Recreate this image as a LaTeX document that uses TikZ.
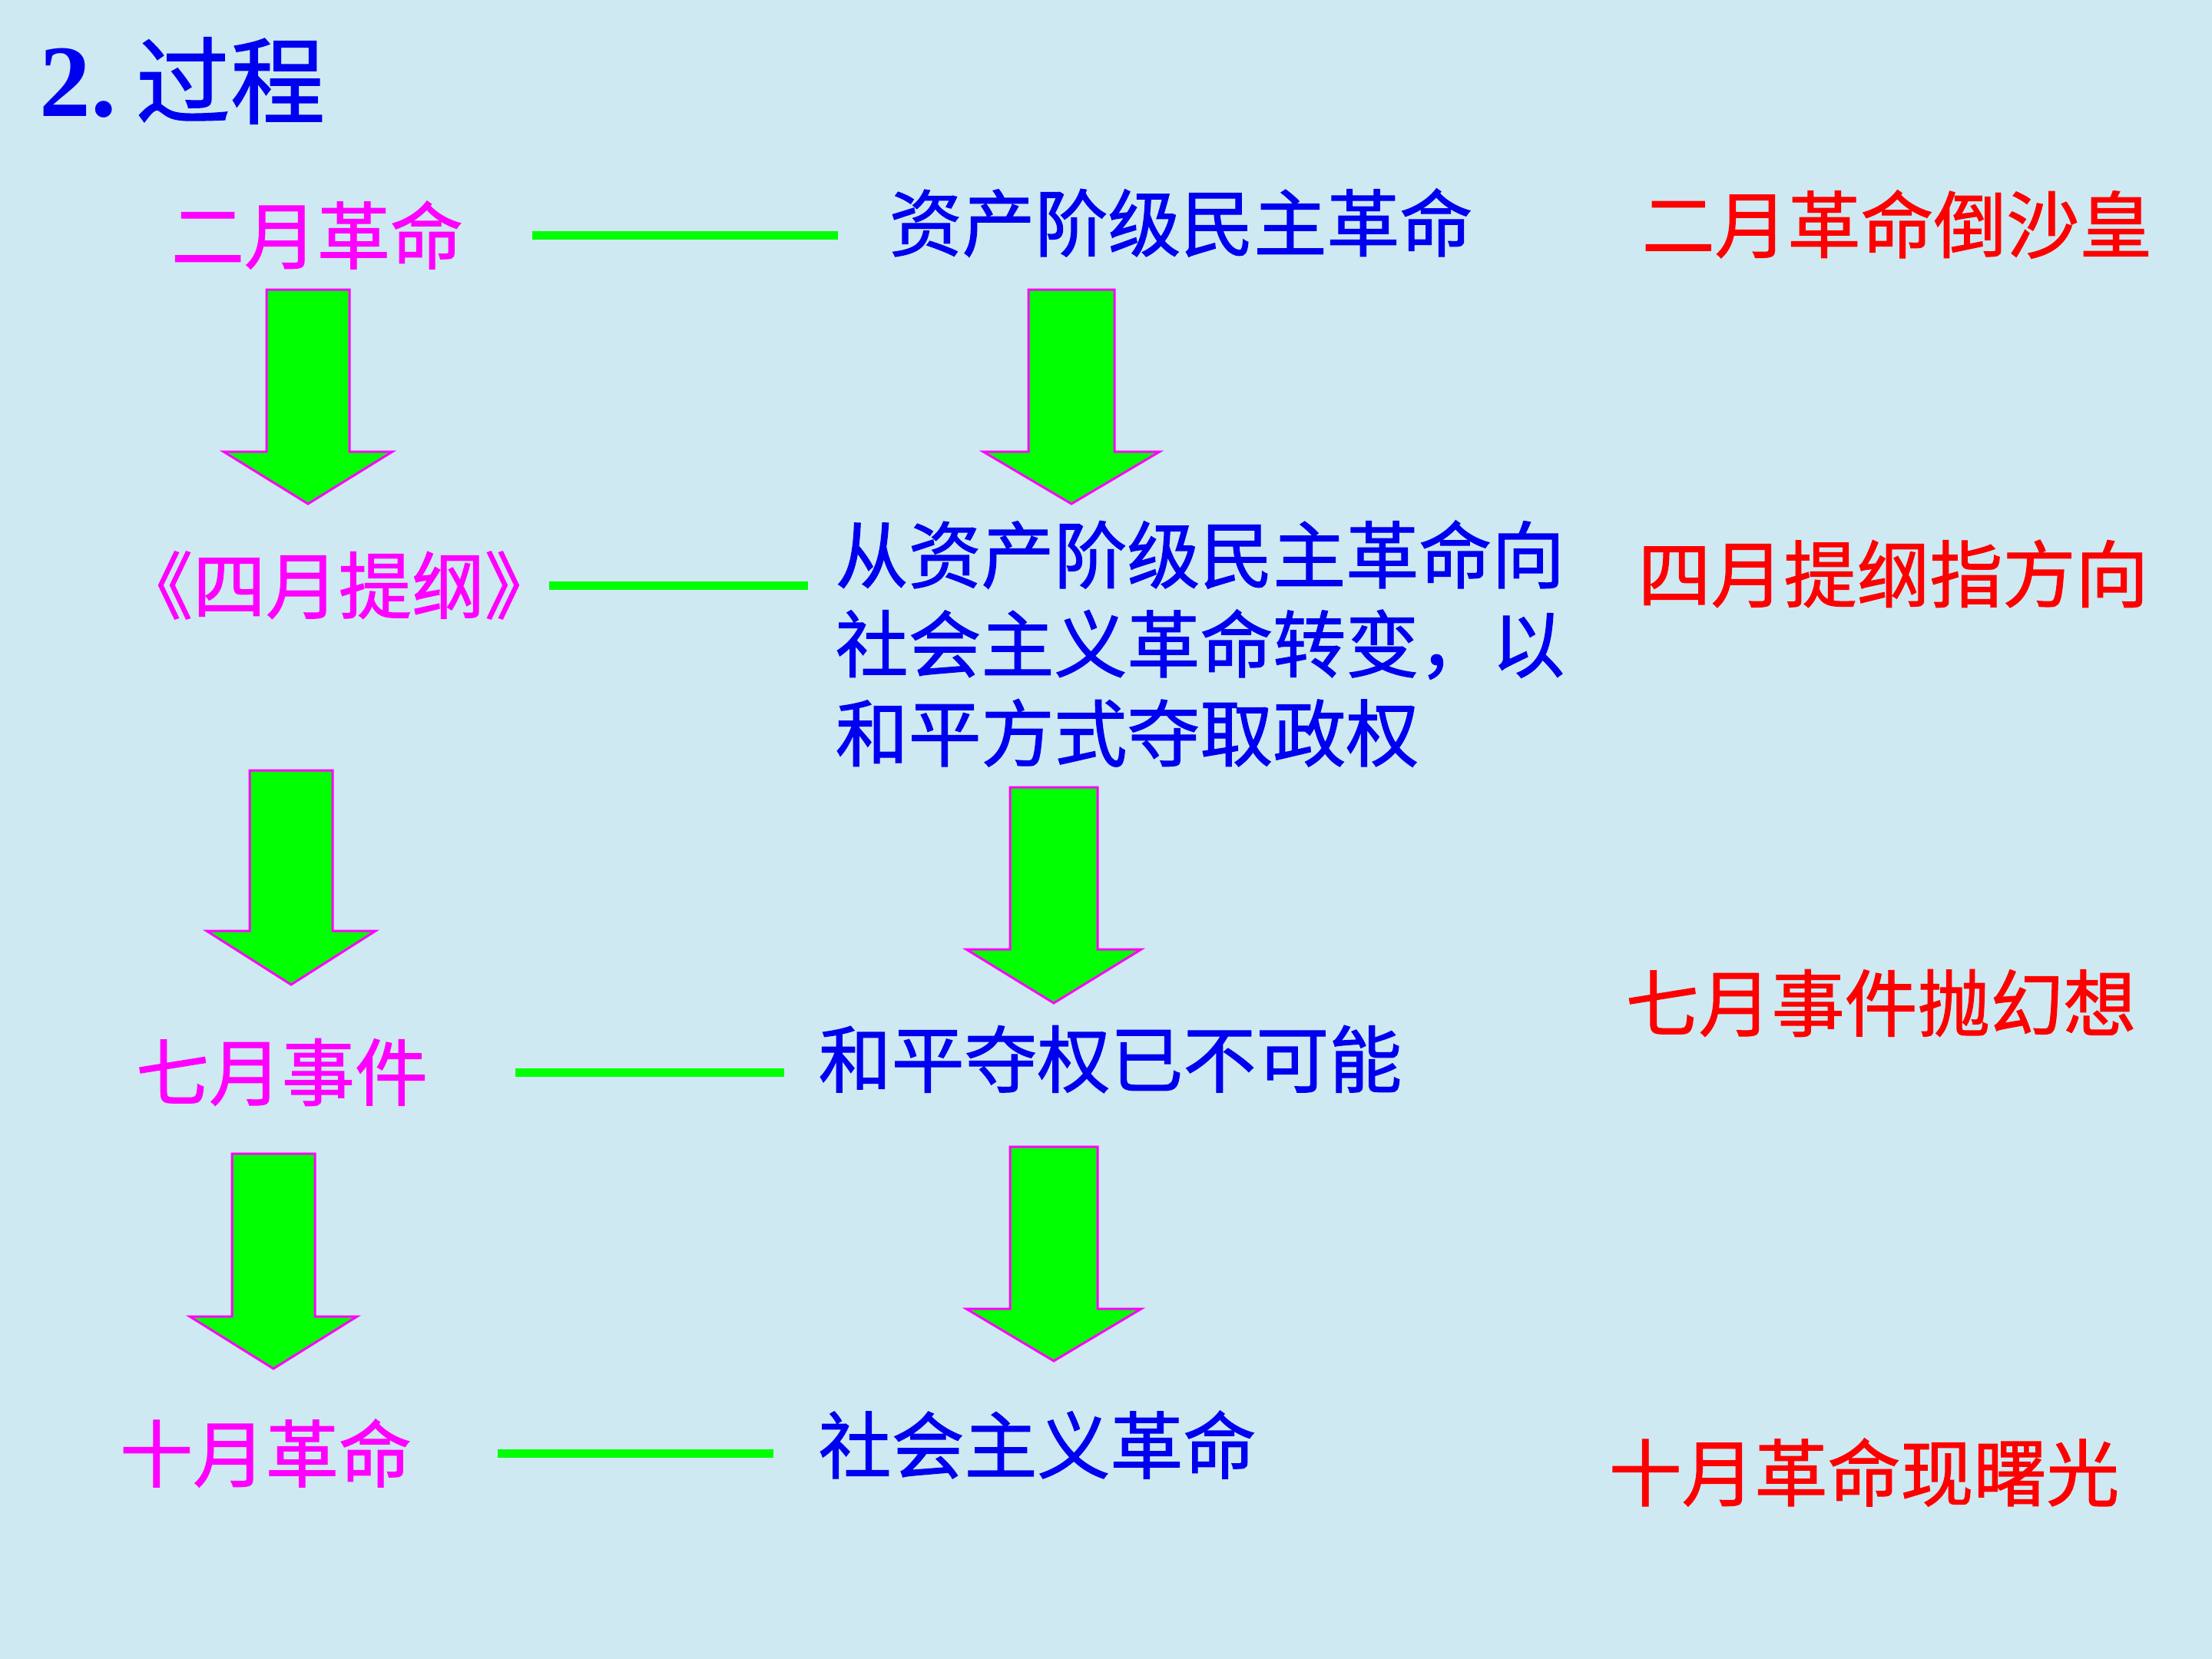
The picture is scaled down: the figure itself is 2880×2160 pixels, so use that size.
\documentclass[tikz,border=0pt]{standalone}
\usepackage{fontspec}
\setmainfont{Liberation Serif}
\newfontfamily\cjk{Noto Sans CJK SC}[AutoFakeBold=1.2]
\definecolor{bgc}{RGB}{206,233,242}
\definecolor{tblue}{RGB}{0,0,240}
\definecolor{tmag}{RGB}{255,0,255}
\definecolor{tred}{RGB}{255,0,0}
\definecolor{tgreen}{RGB}{0,255,0}
\tikzset{
  lefttxt/.style={inner sep=0pt, text=tmag, font=\cjk\bfseries\fontsize{27}{33}\selectfont},
  midtxt/.style={inner sep=0pt, anchor=west, text=tblue, align=left, font=\cjk\bfseries\fontsize{27}{33}\selectfont},
  righttxt/.style={inner sep=0pt, text=tred, font=\cjk\bfseries\fontsize{27}{33}\selectfont},
  gline/.style={draw=tgreen, line width=0.11cm},
  blockarrow/.style={fill=tgreen, draw=tmag, line width=0.03cm, line join=miter},
}
\newcommand\dnarrow[6]{%
  \filldraw[blockarrow] ({#1-#2},#4) -- ({#1+#2},#4) -- ({#1+#2},#5) -- ({#1+#3},#5)
    -- (#1,#6) -- ({#1-#3},#5) -- ({#1-#2},#5) -- cycle;}
\begin{document}
\begin{tikzpicture}[x=0.01cm,y=-0.01cm]
\fill[bgc] (0,0) rectangle (2880,2160);
\useasboundingbox (0,0) rectangle (2880,2160);

% title
\node[inner sep=0pt, anchor=west, text=tblue] (title) at (51,105)
  {\bfseries\fontsize{38}{40}\selectfont 2.\hspace{0.25cm}{\cjk\bfseries\fontsize{35}{40}\selectfont 过程}};

% left column
\node[lefttxt] (feb) at (413,306) {二月革命};
\node[lefttxt] (apr) at (441,762) {《四月提纲》};
\node[lefttxt] (jul) at (367,1396) {七月事件};
\node[lefttxt] (oct) at (346,1892) {十月革命};

% middle column
\node[midtxt] (m1) at (1157,290) {资产阶级民主革命};
\node[midtxt] (m2) at (1087,838) {从资产阶级民主革命向\\社会主义革命转变，以\\和平方式夺取政权};
\node[midtxt] (m3) at (1065,1379) {和平夺权已不可能};
\node[midtxt] (m4) at (1065,1881) {社会主义革命};

% right column
\node[righttxt] (r1) at (2470,292) {二月革命倒沙皇};
\node[righttxt] (r2) at (2465,747) {四月提纲指方向};
\node[righttxt] (r3) at (2449,1306) {七月事件抛幻想};
\node[righttxt] (r4) at (2427,1917) {十月革命现曙光};

% green connectors
\draw[gline, shorten <=0.89cm, shorten >=0.66cm] (feb.east) -- (feb.east -| m1.west);
\draw[gline, shorten <=-0.12cm, shorten >=0.35cm] (apr.east) -- (apr.east -| m2.west);
\draw[gline, shorten <=1.13cm, shorten >=0.44cm] (jul.east) -- (jul.east -| m3.west);
\draw[gline, shorten <=1.11cm, shorten >=0.58cm] (oct.east) -- (oct.east -| m4.west);

% block arrows
\dnarrow{401}{54}{110}{377}{588}{656}
\dnarrow{1395}{56}{115}{377}{588}{656}
\dnarrow{379}{54}{110}{1003}{1212}{1282}
\dnarrow{1372}{57}{114}{1025}{1236}{1306}
\dnarrow{356}{54}{109}{1502}{1714}{1782}
\dnarrow{1372}{57}{114}{1493}{1704}{1772}
\end{tikzpicture}
\end{document}
